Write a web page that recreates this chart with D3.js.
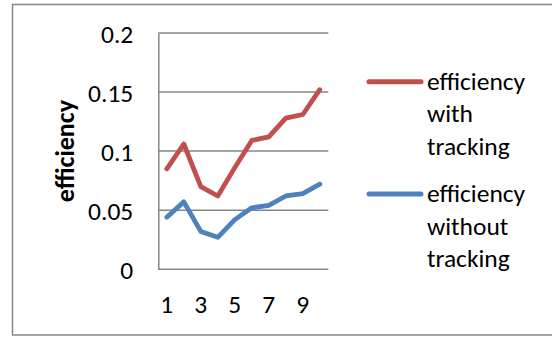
<!DOCTYPE html>
<html>
<head>
<meta charset="utf-8">
<script src="https://cdn.jsdelivr.net/npm/d3@7/dist/d3.min.js"></script>
<style>
  html, body { margin: 0; padding: 0; background: #fff; }
  svg { display: block; }
  text { font-family: Carlito, Lato, "Open Sans", sans-serif; fill: #000; }
</style>
</head>
<body>
<svg id="chart" width="552" height="337"></svg>
<script>
// Chart data
const categories = [1, 2, 3, 4, 5, 6, 7, 8, 9, 10];
const withTracking = [0.085, 0.106, 0.070, 0.062, 0.086, 0.109, 0.112, 0.128, 0.131, 0.152];
const withoutTracking = [0.044, 0.057, 0.032, 0.027, 0.042, 0.052, 0.054, 0.062, 0.064, 0.072];
const yTicks = [0, 0.05, 0.1, 0.15, 0.2];
const yTickLabels = ["0", "0.05", "0.1", "0.15", "0.2"];
const seriesNames = [["efficiency", "with", "tracking"], ["efficiency", "without", "tracking"]];
const seriesColors = ["#C0504D", "#4F81BD"];
const axisTitle = "efficiency";

const svg = d3.select("#chart");
const grey = "#868686";
const fontSize = 25.5;

// Outer chart frame
svg.append("rect")
  .attr("x", 12.5).attr("y", 4.5)
  .attr("width", 600).attr("height", 330.5)
  .attr("fill", "none").attr("stroke", grey).attr("stroke-width", 1.5);

const plot = { left: 158.3, right: 328.3, top: 33, bottom: 269.2 };

const x = d3.scaleBand().domain(categories).range([plot.left, plot.right]);
const y = d3.scaleLinear().domain([0, 0.2]).range([plot.bottom, plot.top]);

// Horizontal gridlines
svg.append("g").selectAll("line").data(yTicks).join("line")
  .attr("x1", plot.left).attr("x2", plot.right)
  .attr("y1", d => y(d)).attr("y2", d => y(d))
  .attr("stroke", grey).attr("stroke-width", 1.5);

// Y axis
const yAxis = svg.append("g")
  .attr("transform", `translate(${plot.left},0)`)
  .call(d3.axisLeft(y).tickValues(yTicks).tickSize(0).tickPadding(25)
    .tickFormat((d, i) => yTickLabels[i]));
yAxis.select(".domain").attr("stroke", grey).attr("stroke-width", 1.5);
yAxis.selectAll("text")
  .attr("font-size", fontSize).attr("dy", "0.36em")
  .style("font-family", "Carlito, Lato, sans-serif");

// X axis (odd categories labelled)
const xAxis = svg.append("g")
  .attr("transform", `translate(0,${plot.bottom})`)
  .call(d3.axisBottom(x).tickSize(0).tickPadding(0)
    .tickFormat(d => (d % 2 === 1 ? String(d) : "")));
xAxis.select(".domain").remove();
xAxis.selectAll("text")
  .attr("font-size", fontSize).attr("y", 43.5).attr("dy", 0)
  .style("font-family", "Carlito, Lato, sans-serif");

// Axis title
svg.append("text")
  .attr("transform", `translate(74,${(plot.top + plot.bottom) / 2}) rotate(-90)`)
  .attr("text-anchor", "middle")
  .attr("font-size", 26).attr("font-weight", "bold")
  .text(axisTitle);

// Series lines
const line = d3.line()
  .x((d, i) => x(categories[i]) + x.bandwidth() / 2)
  .y(d => y(d));

[withTracking, withoutTracking].forEach((series, k) => {
  svg.append("path")
    .datum(series)
    .attr("d", line)
    .attr("fill", "none")
    .attr("stroke", seriesColors[k])
    .attr("stroke-width", 4.8)
    .attr("stroke-linejoin", "round")
    .attr("stroke-linecap", "round");
});

// Legend
const legendTop = [81.7, 194];
seriesNames.forEach((lines, k) => {
  const g = svg.append("g");
  g.append("line")
    .attr("x1", 369).attr("x2", 421)
    .attr("y1", legendTop[k]).attr("y2", legendTop[k])
    .attr("stroke", seriesColors[k]).attr("stroke-width", 5)
    .attr("stroke-linecap", "round");
  g.selectAll("text").data(lines).join("text")
    .attr("x", 427)
    .attr("y", (d, i) => legendTop[k] + 8 + i * 32.5)
    .attr("font-size", fontSize)
    .text(d => d);
});
</script>
</body>
</html>
